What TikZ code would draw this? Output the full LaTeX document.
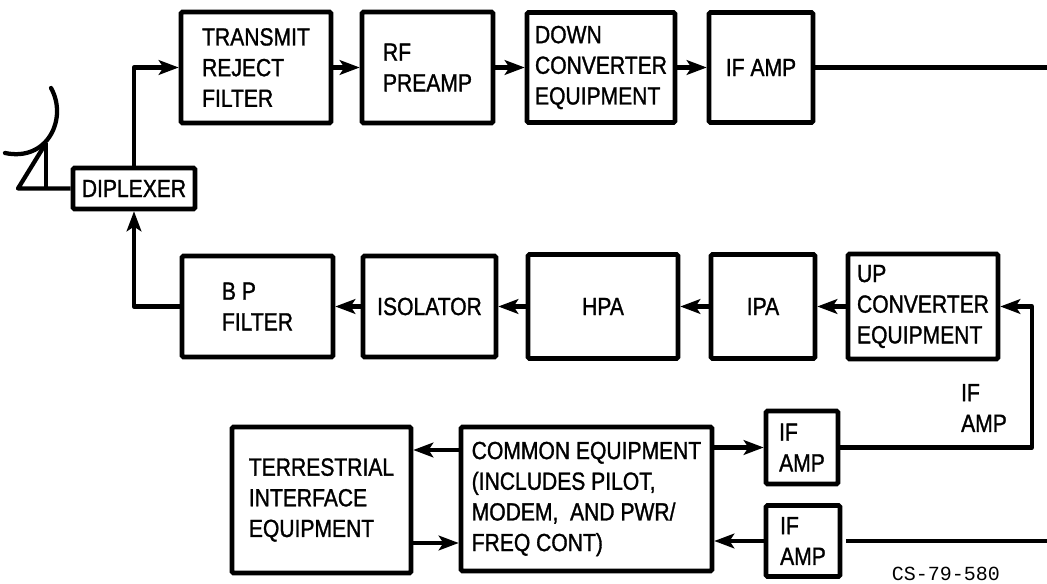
\documentclass[tikz,border=0pt]{standalone}
\usepackage{fontspec}
\setmainfont{Liberation Sans}[FakeStretch=0.85,FakeBold=1.2]
\newfontfamily\drawingno{Liberation Mono}
\usetikzlibrary{arrows.meta, calc}

\begin{document}
\begin{tikzpicture}[
    x=0.75pt,
    y=-0.75pt,
    box/.style={
        draw,
        line width=3.4pt,
        rounded corners=1pt,
        align=left,
        inner sep=0pt,
        font=\fontsize{18.6}{23}\selectfont
    },
    boxsize/.style 2 args={
        minimum width=#1*0.75pt,
        minimum height=#2*0.75pt
    },
    wire/.style={
        line width=3.2pt,
        line join=round
    },
    arrow/.style={
        wire,
        -{Stealth[length=15pt,width=11pt,inset=3.5pt]}
    }
]

\useasboundingbox (0,0) rectangle (1047,584);

\node[box, boxsize={150}{111}] (transmit) at (256,67.5)
{TRANSMIT\\
REJECT\\
FILTER};

\node[box, boxsize={131}{111}] (preamp) at (427.5,67.5)
{RF\\
PREAMP};

\node[box, boxsize={148}{110}] (down) at (601,67.5)
{DOWN\\
CONVERTER\\
EQUIPMENT};

\node[box, boxsize={104}{110}] (ifdown) at (761,67.5)
{IF AMP};

\node[box, boxsize={122}{41}] (diplexer) at (134,188.5)
{DIPLEXER};

\node[box, boxsize={151}{101}] (bpfilter) at (257.5,306.5)
{B P\\
FILTER};

\node[box, boxsize={133}{101}] (isolator) at (429.5,306.5)
{ISOLATOR};

\node[box, boxsize={150}{104}] (hpa) at (603,306.5)
{HPA};

\node[box, boxsize={104}{104}] (ipa) at (763,306.5)
{IPA};

\node[box, boxsize={150}{105}] (up) at (923,306.5)
{UP\\
CONVERTER\\
EQUIPMENT};

\node[box, boxsize={179}{146}] (terrestrial) at (321.5,500)
{TERRESTRIAL\\
INTERFACE\\
EQUIPMENT};

\node[box, boxsize={251}{144}] (common) at (586.5,499)
{COMMON EQUIPMENT\\
(INCLUDES PILOT,\\
MODEM,\ \ AND PWR/\\
FREQ CONT)};

\node[box, boxsize={72}{73}] (ifsend) at (802,447.5)
{IF\\
AMP};

\node[box, boxsize={74}{71}] (ifreceive) at (803,541)
{IF\\
AMP};

\node[align=left, inner sep=0pt, font=\fontsize{18.6}{23}\selectfont] (iflabel) at (984,408)
{IF\\
AMP};

\node[inner sep=0pt, font=\drawingno\fontsize{15}{15}\selectfont] (drawing) at (946,574)
{CS-79-580};

\coordinate (dishtop) at (51,88);
\coordinate (dishend) at (5,153);
\coordinate (apex) at (46,143);
\coordinate (footleft) at (18,188.5);
\coordinate (footmid) at (46,188.5);
\coordinate (downout) at (1047,67.5);
\coordinate (recvout) at (1047,541);
\coordinate (recvgap) at (846,541);
\coordinate (sendturn) at (1032,447.5);
\coordinate (toplink) at (430,450);
\coordinate (lowlink) at (430,543);

\draw[wire, line cap=round] (dishtop) .. controls (68,118) and (48,162) .. (dishend);
\draw[wire] (apex) -- (footleft) -- (diplexer.west);
\draw[wire] (apex) -- (footmid);

\draw[arrow] (diplexer.north) |- (transmit.west);
\draw[arrow] (transmit.east) -- (preamp.west);
\draw[arrow] (preamp.east) -- (down.west);
\draw[arrow] (down.east) -- (ifdown.west);
\draw[wire] (ifdown.east) -- (downout);

\draw[arrow] (up.west) -- (ipa.east);
\draw[arrow] (ipa.west) -- (hpa.east);
\draw[arrow] (hpa.west) -- (isolator.east);
\draw[arrow] (isolator.west) -- (bpfilter.east);
\draw[arrow] (bpfilter.west) -| (diplexer.south);

\draw[arrow] (ifsend.east) -- (sendturn) |- (up.east);
\draw[arrow] (common.east |- ifsend.west) -- (ifsend.west);
\draw[wire] (recvout) -- (recvgap);
\draw[arrow] (ifreceive.west) -- (common.east |- ifreceive.west);
\draw[arrow] (common.west |- toplink) -- (terrestrial.east |- toplink);
\draw[arrow] (terrestrial.east |- lowlink) -- (common.west |- lowlink);

\end{tikzpicture}
\end{document}
